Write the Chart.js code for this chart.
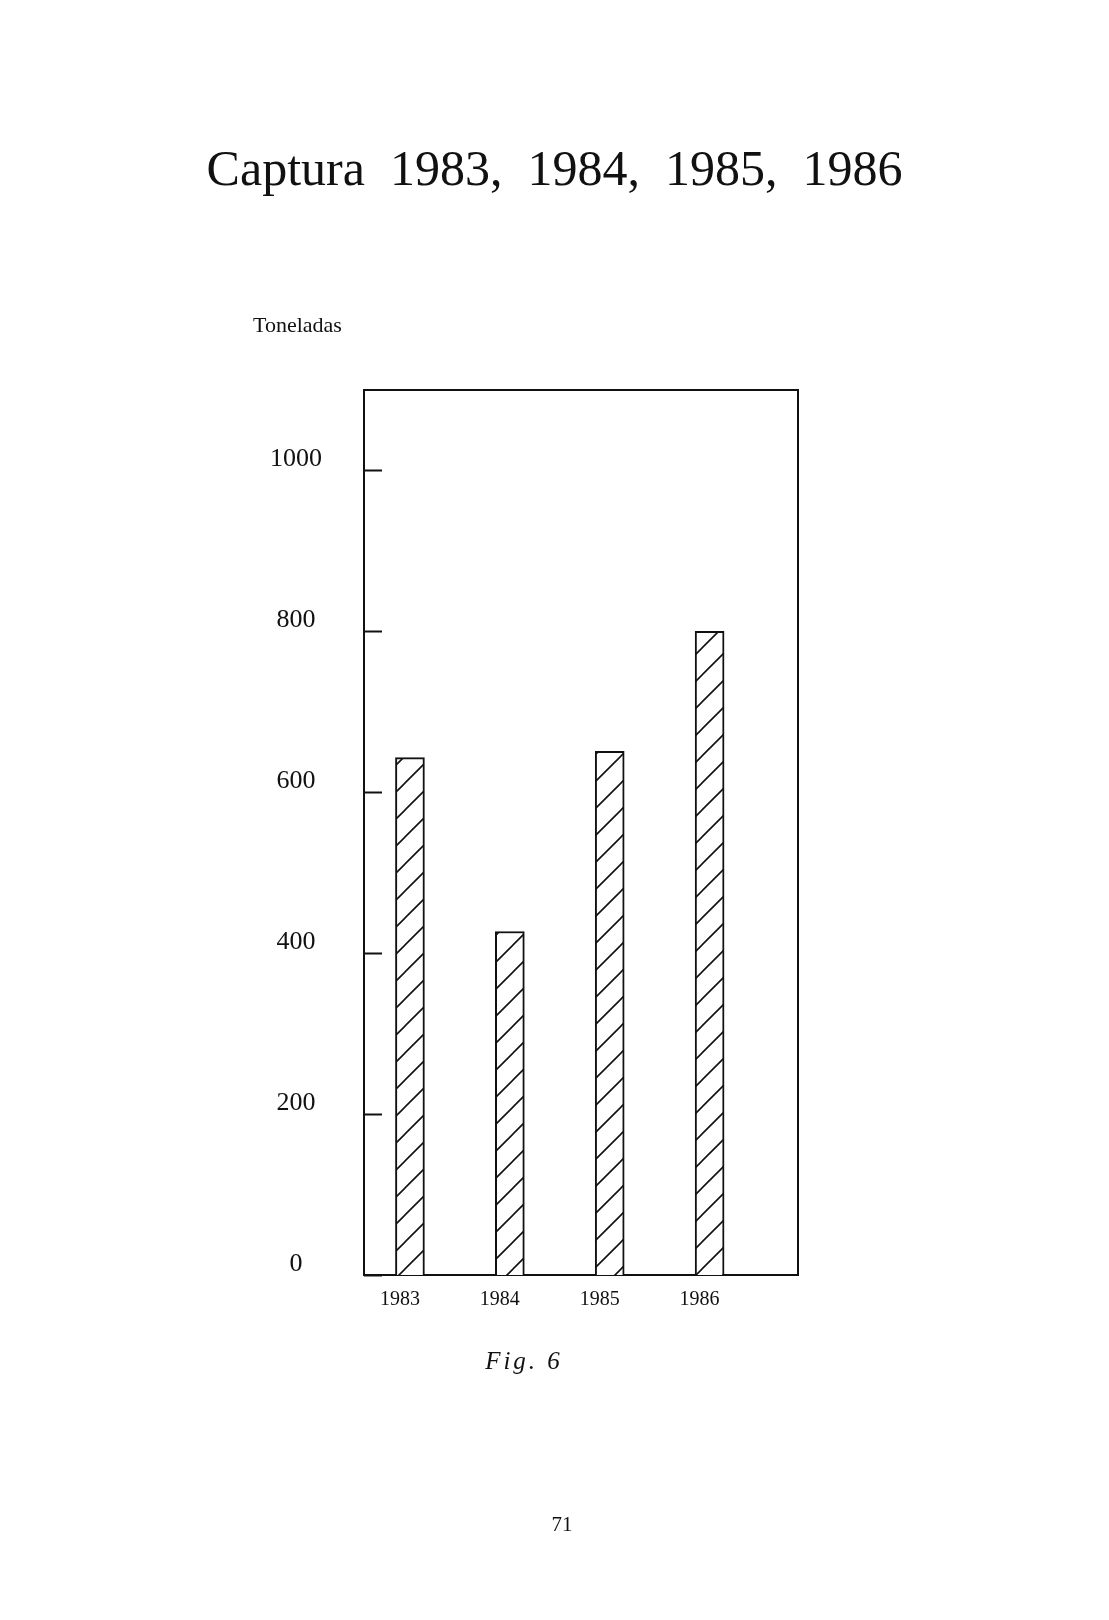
<!DOCTYPE html>
<html>
<head>
<meta charset="utf-8">
<script src="https://cdn.jsdelivr.net/npm/chart.js@4/dist/chart.umd.min.js"></script>
<style>
  html, body { margin: 0; padding: 0; background: #ffffff; }
  #wrap { width: 1109px; height: 1620px; }
</style>
</head>
<body>
<div id="wrap"><canvas id="c" width="1109" height="1620"></canvas></div>
<script>
// ---- data ----
const years = [1983, 1984, 1985, 1986];
const capturaTon = [643, 427, 651, 800];
const yTickValues = [0, 200, 400, 600, 800, 1000];
const titleText = 'Captura  1983,  1984,  1985,  1986';
const yAxisLabel = 'Toneladas';
const figLabel = 'Fig. 6';
const pageNumber = '71';

const SERIF = '"Liberation Serif", "DejaVu Serif", serif';

function makeHatch() {
  const s = 27;
  const c = document.createElement('canvas');
  c.width = s; c.height = s;
  const g = c.getContext('2d');
  g.fillStyle = '#ffffff';
  g.fillRect(0, 0, s, s);
  g.strokeStyle = '#111111';
  g.lineWidth = 1.6;
  g.beginPath();
  g.moveTo(0, s); g.lineTo(s, 0);
  g.moveTo(-3, 3); g.lineTo(3, -3);
  g.moveTo(s - 3, s + 3); g.lineTo(s + 3, s - 3);
  g.stroke();
  return g.createPattern(c, 'repeat');
}

const extraText = {
  id: 'extraText',
  afterDraw(chart) {
    const ctx = chart.ctx;
    const ys = chart.scales.y;
    const area = chart.chartArea;
    ctx.save();
    // inner tick marks
    ctx.strokeStyle = '#111111';
    ctx.lineWidth = 2;
    yTickValues.forEach(v => {
      const py = Math.round(ys.getPixelForValue(v)) + 0.5;
      ctx.beginPath();
      ctx.moveTo(area.left, py);
      ctx.lineTo(area.left + 18, py);
      ctx.stroke();
    });
    ctx.fillStyle = '#111111';
    ctx.textBaseline = 'middle';
    ctx.textAlign = 'left';
    ctx.font = '22px ' + SERIF;
    ctx.fillText(yAxisLabel, 253, 326);
    ctx.textAlign = 'center';
    ctx.font = 'italic 25px ' + SERIF;
    if ('letterSpacing' in ctx) ctx.letterSpacing = '3px';
    ctx.fillText(figLabel, 524, 1362);
    if ('letterSpacing' in ctx) ctx.letterSpacing = '0px';
    ctx.font = '21px ' + SERIF;
    ctx.fillText(pageNumber, 562, 1525);
    ctx.restore();
  }
};

const black = '#111111';

new Chart(document.getElementById('c'), {
  type: 'bar',
  data: {
    datasets: [{
      data: years.map((yr, i) => ({ x: yr, y: capturaTon[i] })),
      backgroundColor: makeHatch(),
      borderColor: black,
      borderWidth: 2,
      barThickness: 29
    }]
  },
  options: {
    responsive: false,
    animation: false,
    layout: { padding: { left: 0, right: 0, top: 0, bottom: 285 } },
    plugins: {
      legend: { display: false },
      tooltip: { enabled: false },
      title: {
        display: true,
        text: titleText,
        color: black,
        font: { family: SERIF, size: 50, weight: 'normal', lineHeight: 1.2 },
        padding: { top: 142, bottom: 188 }
      }
    },
    scales: {
      x: {
        type: 'linear',
        position: 'bottom',
        min: 1982.54,
        max: 1986.885,
        offset: false,
        grid: { display: false, drawTicks: false, offset: false },
        border: { display: true, color: black, width: 2 },
        afterBuildTicks: s => { s.ticks = years.map(v => ({ value: v })); },
        afterFit: s => { s.height = 60; },
        ticks: {
          color: black,
          padding: 13,
          labelOffset: -10,
          maxRotation: 0,
          autoSkip: false,
          font: { family: SERIF, size: 20 },
          callback: v => String(v)
        }
      },
      x2: {
        type: 'linear',
        position: 'top',
        grid: { display: false, drawTicks: false },
        border: { display: true, color: black, width: 2 },
        ticks: { display: false },
        afterFit: s => { s.height = 0; }
      },
      y: {
        type: 'linear',
        position: 'left',
        min: 0,
        max: 1100,
        grid: { display: false, drawTicks: false },
        border: { display: true, color: black, width: 2 },
        afterBuildTicks: s => { s.ticks = yTickValues.map(v => ({ value: v })); },
        afterFit: s => { s.width = 364; },
        ticks: {
          color: black,
          padding: 42,
          crossAlign: 'center',
          labelOffset: -11,
          font: { family: SERIF, size: 26 },
          callback: v => String(v)
        }
      },
      y2: {
        type: 'linear',
        position: 'right',
        grid: { display: false, drawTicks: false },
        border: { display: true, color: black, width: 2 },
        ticks: { display: false },
        afterFit: s => { s.width = 311; }
      }
    }
  },
  plugins: [extraText]
});
</script>
</body>
</html>
